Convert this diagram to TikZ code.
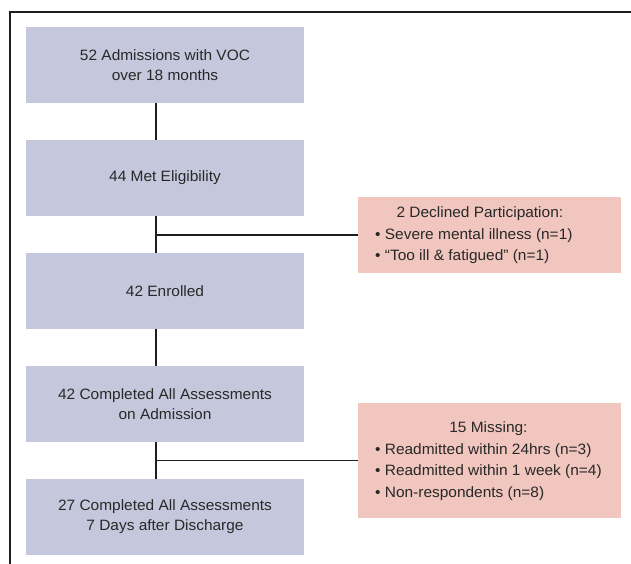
\documentclass[tikz,border=0pt]{standalone}
\usepackage{fontspec}
\setmainfont{Liberation Sans}[FakeStretch=1.03]
\begin{document}
\begin{tikzpicture}[x=1pt,y=-1pt,
  bluebox/.style={fill={rgb,255:red,197;green,200;blue,220}, draw=none,
    minimum width=278pt, inner sep=0pt, align=center, text=textc,
    font=\fontsize{15pt}{20pt}\selectfont},
  pinkbox/.style={fill={rgb,255:red,240;green,198;blue,190}, draw=none,
    minimum width=263pt, inner sep=0pt},
  pinktext/.style={anchor=west, inner sep=0pt, text=textc,
    font=\fontsize{15pt}{21.5pt}\selectfont},
  link/.style={draw=linec, line width=1.8pt},
  frame/.style={draw=linec, line width=2pt}]
\definecolor{textc}{RGB}{40,40,40}
\definecolor{linec}{RGB}{30,30,30}
\useasboundingbox (0,0) rectangle (631,564);
\draw[frame] (631,12) -| (10,564);
\coordinate (sp) at (156,0);
\node[bluebox, minimum height=76pt] (b1) at (165,65) {52 Admissions with VOC\\over 18 months};
\node[bluebox, minimum height=76pt] (b2) at (165,178) {44 Met Eligibility};
\node[bluebox, minimum height=76pt] (b3) at (165,291) {42 Enrolled};
\node[bluebox, minimum height=76pt] (b4) at (165,404) {42 Completed All Assessments\\on Admission};
\node[bluebox, minimum height=76pt] (b5) at (165,517) {27 Completed All Assessments\\7 Days after Discharge};
\node[pinkbox, minimum height=76pt] (p1) at (489.5,235) {};
\node[pinkbox, minimum height=115pt] (p2) at (489.5,460.5) {};
\node[pinktext] (t1) at (375,235) {\begin{tabular}{@{}l@{}}\multicolumn{1}{c}{\hspace{12pt}2 Declined Participation:}\\• Severe mental illness (n=1)\\• “Too ill \& fatigued” (n=1)\end{tabular}};
\node[pinktext] (t2) at (375,460.5) {\begin{tabular}{@{}l@{}}\multicolumn{1}{c}{15 Missing:}\\• Readmitted within 24hrs (n=3)\\• Readmitted within 1 week (n=4)\\• Non-respondents (n=8)\end{tabular}};
\draw[link] (b1.south -| sp) -- (b2.north -| sp);
\draw[link] (b2.south -| sp) -- (b3.north -| sp);
\draw[link] (b3.south -| sp) -- (b4.north -| sp);
\draw[link] (b4.south -| sp) -- (b5.north -| sp);
\draw[link] (p1.west) -- (p1.west -| sp);
\draw[link] (p2.west) -- (p2.west -| sp);
\end{tikzpicture}
\end{document}
